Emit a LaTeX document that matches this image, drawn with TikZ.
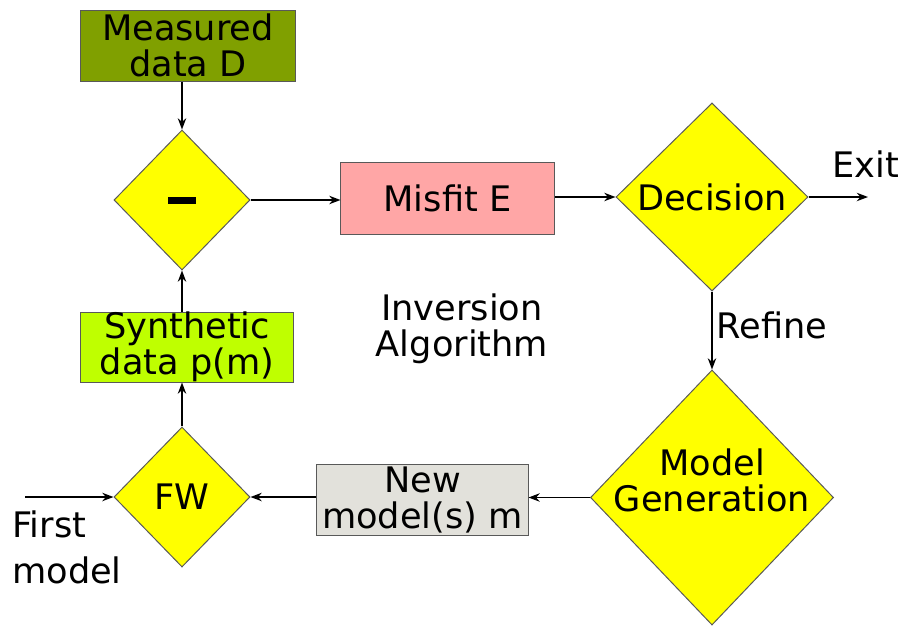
\documentclass[tikz,border=0pt]{standalone}
\usepackage{fontspec}
\setmainfont{DejaVu Sans}
\usetikzlibrary{shapes.geometric,arrows.meta}

\definecolor{measgreen}{HTML}{80A000}
\definecolor{synthgreen}{HTML}{BFFF00}
\definecolor{misfitpink}{HTML}{FFA6A6}
\definecolor{modelgray}{HTML}{E2E1DB}
\definecolor{choiceyellow}{HTML}{FFFF00}

\begin{document}
\begin{tikzpicture}[x=0.025cm,y=-0.025cm,>={Stealth[length=8pt,width=6pt]},
  every node/.style={font=\fontsize{25}{25.6}\selectfont,align=center},
  box/.style={rectangle,draw=gray!70!black,line width=0.7pt,inner xsep=2pt,inner ysep=0pt},
  choice/.style={diamond,draw=gray!70!black,line width=0.7pt,fill=choiceyellow,inner sep=0pt},
  flow/.style={->,line width=1pt}]
  \useasboundingbox (0,0) rectangle (904,626);

  % upper row
  \node[box,fill=measgreen,minimum width=5.35cm,minimum height=1.775cm] (meas) at (188,45.5) {Measured\\data D};
  \node[choice,minimum width=3.4cm,minimum height=3.5cm] (minus) at (182,200) {\rule{0.675cm}{0.175cm}};
  \node[box,fill=misfitpink,minimum width=5.325cm,minimum height=1.8cm] (misfit) at (447.5,198) {Misfit E};
  \node[choice,minimum width=4.8cm,minimum height=4.7cm] (dec) at (712,197) {Decision};
  \node (exitlbl) at (866,164) {Exit};
  \coordinate (exit) at (868,197);

  % middle
  \node[box,fill=synthgreen,minimum width=5.3cm,minimum height=1.7cm] (synth) at (187,347) {Synthetic\\data p(m)};
  \node (inv) at (462,329) {Inversion\\Algorithm};

  % lower row
  \node[choice,minimum width=3.4cm,minimum height=3.5cm] (fw) at (182,497) {FW};
  \node[box,fill=modelgray,minimum width=5.275cm,minimum height=1.775cm] (newm) at (422.5,499.5) {New\\model(s) m};
  \node[choice,minimum width=6.075cm,minimum height=6.375cm] (gen) at (712,497.5) {};
  \node (gentxt) at (712,480) {Model\\Generation};
  \node[align=left,anchor=west,inner sep=0pt,font=\fontsize{25}{32.7}\selectfont] (first) at (12,547) {First\\model};
  \coordinate (fwin) at (25,497);

  % connections
  \draw[flow] (meas.south -| minus.north) -- (minus.north);
  \draw[flow] (minus.east) -- (minus.east -| misfit.west);
  \draw[flow] (misfit.east |- dec.west) -- (dec.west);
  \draw[flow] (dec.east) -- (exit);
  \draw[flow] (dec.south) -- (gen.north) node[pos=0.43,right,inner sep=3pt] (refine) {Refine};
  \draw[flow] (gen.west) -- (gen.west -| newm.east);
  \draw[flow] (newm.west |- fw.east) -- (fw.east);
  \draw[flow] (fwin) -- (fw.west);
  \draw[flow] (fw.north) -- (fw.north |- synth.south);
  \draw[flow] (synth.north -| minus.south) -- (minus.south);
\end{tikzpicture}
\end{document}
